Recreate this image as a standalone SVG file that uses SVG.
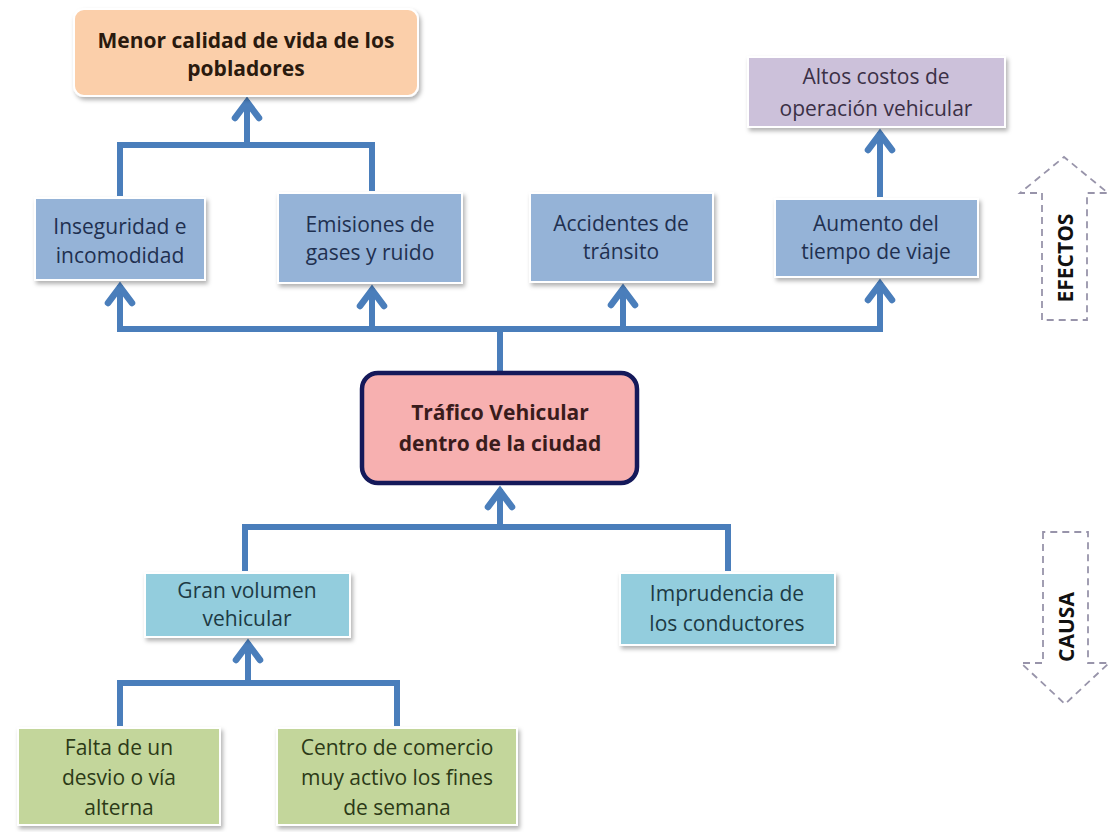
<svg xmlns="http://www.w3.org/2000/svg" width="1110" height="832" viewBox="0 0 1110 832">
<style>
.t{font-family:"Open Sans","Liberation Sans",sans-serif;font-size:21px;text-anchor:middle}
.b{font-weight:bold}
.box{stroke:#ffffff;stroke-width:2;filter:url(#sh)}
.eff{fill:#95b3d7}
.effT{fill:#1f3050}
.cau{fill:#93cddd}
.cauT{fill:#1d3a44}
.grn{fill:#c3d69b}
.grnT{fill:#2c3a17}
.con{fill:none;stroke:#4a7ebb;stroke-width:6}
.ar{marker-end:url(#ah)}
.side{fill:none;stroke:#9894aa;stroke-width:1.8;stroke-dasharray:7 5}
</style>
<defs>
<filter id="sh" x="-10%" y="-10%" width="125%" height="135%">
<feDropShadow dx="2" dy="3" stdDeviation="2" flood-color="#000" flood-opacity="0.3"/>
</filter>
<marker id="ah" markerUnits="userSpaceOnUse" viewBox="-24 -16 28 32" markerWidth="28" markerHeight="32" refX="0" refY="0" orient="auto">
<path d="M-18,-12 L-2,0 L-18,12" fill="none" stroke="#4a7ebb" stroke-width="6.5" stroke-linecap="round"/>
</marker>
</defs>
<rect width="1110" height="832" fill="#ffffff"/>

<g id="connectors">
<path class="con" d="M120,196 V145 H372 V191"/>
<path class="con ar" d="M247,145 V100"/>
<path class="con ar" d="M880,197 V132"/>
<path class="con" d="M500,371 V329"/>
<path class="con" d="M117,329 H883"/>
<path class="con ar" d="M120,329 V285"/>
<path class="con ar" d="M372,329 V288"/>
<path class="con ar" d="M623,329 V287"/>
<path class="con ar" d="M880,329 V282"/>
<path class="con" d="M245,571 V527 H728 V571"/>
<path class="con ar" d="M500,527 V489"/>
<path class="con" d="M120,726 V683 H397 V726"/>
<path class="con ar" d="M248,683 V642"/>
</g>

<g id="menor-calidad">
<rect class="box" x="74" y="9" width="344" height="87" rx="10" fill="#fbcfaa"/>
<text class="t b" x="246" y="48" fill="#2a1a0e">Menor calidad de vida de los</text>
<text class="t b" x="246" y="76" fill="#2a1a0e">pobladores</text>
</g>

<g id="altos-costos">
<rect class="box" x="748" y="57" width="257" height="70" fill="#ccc1da"/>
<text class="t" x="876" y="84" fill="#3b3046">Altos costos de</text>
<text class="t" x="876" y="116" fill="#3b3046">operación vehicular</text>
</g>

<g id="inseguridad">
<rect class="box eff" x="35" y="198" width="170" height="82"/>
<text class="t effT" x="120" y="234">Inseguridad e</text>
<text class="t effT" x="120" y="263">incomodidad</text>
</g>

<g id="emisiones">
<rect class="box eff" x="278" y="193" width="184" height="90"/>
<text class="t effT" x="370" y="232">Emisiones de</text>
<text class="t effT" x="370" y="260">gases y ruido</text>
</g>

<g id="accidentes">
<rect class="box eff" x="530" y="193" width="183" height="89"/>
<text class="t effT" x="621" y="231">Accidentes de</text>
<text class="t effT" x="621" y="259">tránsito</text>
</g>

<g id="aumento">
<rect class="box eff" x="775" y="199" width="203" height="78"/>
<text class="t effT" x="876" y="231">Aumento del</text>
<text class="t effT" x="876" y="259">tiempo de viaje</text>
</g>

<g id="trafico">
<rect x="362" y="373" width="275" height="110" rx="16" fill="#f7b0b0" stroke="#15195a" stroke-width="4.5"/>
<text class="t b" x="500" y="420" fill="#3a1c1c">Tráfico Vehicular</text>
<text class="t b" x="500" y="451" fill="#3a1c1c">dentro de la ciudad</text>
</g>

<g id="gran-volumen">
<rect class="box cau" x="145" y="573" width="205" height="64"/>
<text class="t cauT" x="247" y="598">Gran volumen</text>
<text class="t cauT" x="247" y="626">vehicular</text>
</g>

<g id="imprudencia">
<rect class="box cau" x="620" y="573" width="215" height="72"/>
<text class="t cauT" x="727" y="601">Imprudencia de</text>
<text class="t cauT" x="727" y="631">los conductores</text>
</g>

<g id="falta-desvio">
<rect class="box grn" x="18" y="728" width="202" height="97"/>
<text class="t grnT" x="119" y="755">Falta de un</text>
<text class="t grnT" x="119" y="785">desvio o vía</text>
<text class="t grnT" x="119" y="815">alterna</text>
</g>

<g id="centro-comercio">
<rect class="box grn" x="277" y="728" width="240" height="97"/>
<text class="t grnT" x="397" y="755">Centro de comercio</text>
<text class="t grnT" x="397" y="785">muy activo los fines</text>
<text class="t grnT" x="397" y="815">de semana</text>
</g>

<g id="efectos">
<polygon class="side" points="1042,320 1042,193 1020,193 1064,157 1108,193 1087,193 1087,320"/>
<text class="t b" x="0" y="0" font-size="23" fill="#111" transform="translate(1073,258) rotate(-90)">EFECTOS</text>
</g>

<g id="causa">
<polygon class="side" points="1043,532 1043,663 1021,663 1065,704 1109,663 1088,663 1088,532"/>
<text class="t b" x="0" y="0" font-size="23" fill="#111" transform="translate(1074,627) rotate(-90)">CAUSA</text>
</g>
</svg>
